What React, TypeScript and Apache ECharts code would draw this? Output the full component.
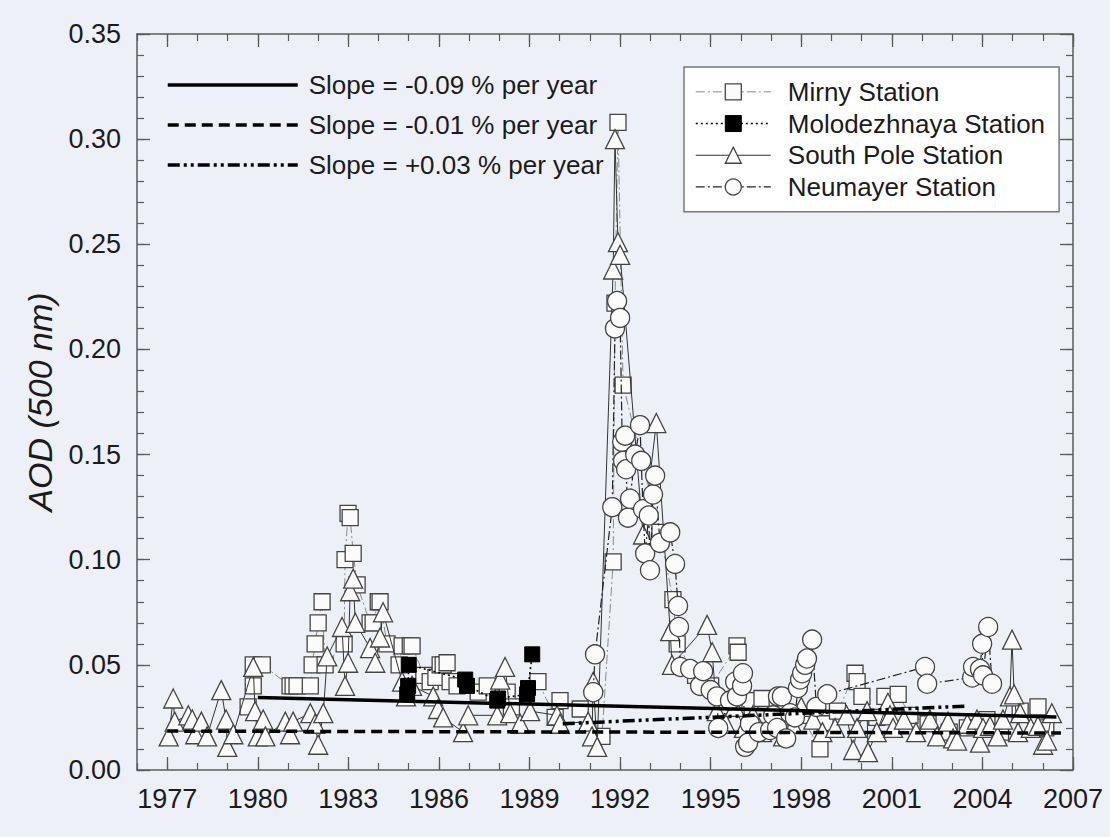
import React, { useEffect, useRef } from "react";
import * as echarts from "echarts";

// Tick positions
const yearTicks = [1977, 1980, 1983, 1986, 1989, 1992, 1995, 1998, 2001, 2004, 2007];
const aodTicks = [0, 0.05, 0.1, 0.15, 0.2, 0.25, 0.3, 0.35];

// Station series: [decimal year, AOD at 500 nm]
const mirny: number[][] = [
  [1979.68, 0.03], [1979.85, 0.04], [1979.85, 0.05], [1980.15, 0.05], [1981.07, 0.04], [1981.17, 0.04],
  [1981.3, 0.04], [1981.74, 0.04], [1981.8, 0.05], [1981.9, 0.06], [1982.0, 0.07], [1982.13, 0.08],
  [1982.23, 0.05], [1982.86, 0.06], [1982.89, 0.1], [1982.99, 0.122], [1983.06, 0.12], [1983.16, 0.103],
  [1983.29, 0.088], [1983.72, 0.07], [1983.82, 0.07], [1983.99, 0.08], [1984.05, 0.08], [1984.28, 0.06],
  [1984.68, 0.05], [1984.78, 0.059], [1985.05, 0.059], [1985.11, 0.059], [1985.5, 0.045], [1985.71, 0.042],
  [1985.9, 0.044], [1986.04, 0.05], [1986.14, 0.05], [1986.27, 0.051], [1986.37, 0.042], [1986.6, 0.04],
  [1987.3, 0.037], [1987.6, 0.04], [1988.26, 0.037], [1988.4, 0.03], [1989.28, 0.042], [1989.85, 0.025],
  [1990.01, 0.033], [1990.68, 0.029], [1991.4, 0.016], [1991.77, 0.099], [1991.83, 0.222], [1991.93, 0.308],
  [1992.1, 0.183], [1993.32, 0.113], [1993.75, 0.081], [1993.89, 0.06], [1994.5, 0.045], [1995.0, 0.04],
  [1995.87, 0.059], [1995.91, 0.056], [1996.3, 0.033], [1996.7, 0.034], [1997.2, 0.03], [1997.6, 0.022],
  [1998.0, 0.026], [1998.62, 0.01], [1998.79, 0.022], [1999.2, 0.028], [1999.78, 0.046], [1999.85, 0.042],
  [2000.01, 0.035], [2000.5, 0.025], [2000.77, 0.035], [2001.21, 0.036], [2001.6, 0.026], [2002.2, 0.022],
  [2002.9, 0.018], [2003.5, 0.02], [2004.15, 0.024], [2004.6, 0.018], [2005.25, 0.028], [2005.84, 0.03],
  [2006.1, 0.02],
];

const molodezhnaya: number[][] = [
  [1984.95, 0.036], [1984.98, 0.04], [1985.0, 0.05], [1986.87, 0.043], [1986.93, 0.04],
  [1987.93, 0.033], [1987.96, 0.034], [1988.92, 0.036], [1988.95, 0.039], [1989.09, 0.055],
];

const southPole: number[][] = [
  [1977.05, 0.016], [1977.2, 0.034], [1977.25, 0.023], [1977.7, 0.026], [1977.83, 0.024], [1977.93, 0.017],
  [1978.13, 0.023], [1978.32, 0.016], [1978.79, 0.038], [1978.95, 0.024], [1978.99, 0.011], [1979.19, 0.017],
  [1979.85, 0.049], [1979.91, 0.028], [1980.0, 0.016], [1980.18, 0.024], [1980.25, 0.016], [1980.91, 0.023],
  [1981.07, 0.017], [1981.17, 0.023], [1981.74, 0.027], [1981.9, 0.022], [1982.0, 0.012], [1982.17, 0.027],
  [1982.3, 0.054], [1982.79, 0.068], [1982.89, 0.04], [1982.99, 0.051], [1983.06, 0.085], [1983.16, 0.091],
  [1983.23, 0.07], [1983.72, 0.058], [1983.89, 0.051], [1984.05, 0.063], [1984.15, 0.075], [1984.78, 0.042],
  [1984.91, 0.035], [1985.11, 0.04], [1985.81, 0.035], [1985.97, 0.029], [1986.14, 0.025], [1986.8, 0.018],
  [1986.97, 0.026], [1987.93, 0.026], [1988.03, 0.043], [1988.19, 0.049], [1988.36, 0.027], [1988.69, 0.022],
  [1989.02, 0.028], [1989.91, 0.026], [1990.01, 0.022], [1990.94, 0.023], [1991.07, 0.016], [1991.11, 0.042],
  [1991.24, 0.011], [1991.77, 0.238], [1991.83, 0.3], [1991.93, 0.251], [1992.0, 0.245], [1992.76, 0.112],
  [1993.2, 0.165], [1993.66, 0.066], [1993.72, 0.05], [1994.88, 0.069], [1995.05, 0.056], [1995.2, 0.028],
  [1995.5, 0.022], [1995.8, 0.03], [1996.1, 0.02], [1996.4, 0.026], [1996.7, 0.018], [1997.07, 0.025],
  [1997.4, 0.016], [1997.7, 0.022], [1998.0, 0.03], [1998.4, 0.024], [1998.7, 0.018], [1999.12, 0.02],
  [1999.5, 0.026], [1999.72, 0.0095], [1999.85, 0.02], [2000.18, 0.028], [2000.21, 0.0085], [2000.5, 0.018],
  [2000.87, 0.032], [2000.94, 0.026], [2001.04, 0.02], [2001.4, 0.024], [2001.8, 0.018], [2002.26, 0.024],
  [2002.5, 0.016], [2002.86, 0.023], [2003.03, 0.015], [2003.16, 0.014], [2003.5, 0.022], [2003.82, 0.024],
  [2003.92, 0.013], [2004.02, 0.02], [2004.25, 0.021], [2004.5, 0.016], [2004.68, 0.024], [2004.91, 0.035],
  [2004.98, 0.062], [2005.05, 0.036], [2005.18, 0.018], [2005.25, 0.027], [2005.6, 0.02], [2005.84, 0.021],
  [2006.01, 0.012], [2006.14, 0.014], [2006.3, 0.027],
];

const neumayer: number[][] = [
  [1991.11, 0.037], [1991.17, 0.055], [1991.74, 0.125], [1991.83, 0.21], [1991.9, 0.223], [1992.0, 0.215],
  [1992.07, 0.156], [1992.1, 0.147], [1992.17, 0.159], [1992.2, 0.143], [1992.26, 0.12], [1992.33, 0.129],
  [1992.5, 0.15], [1992.66, 0.164], [1992.7, 0.147], [1992.76, 0.124], [1992.83, 0.103], [1992.95, 0.121],
  [1992.99, 0.095], [1993.09, 0.131], [1993.16, 0.14], [1993.32, 0.108], [1993.66, 0.113], [1993.82, 0.098],
  [1993.92, 0.078], [1993.95, 0.068], [1994.0, 0.049], [1994.32, 0.048], [1994.65, 0.04], [1994.75, 0.047],
  [1995.0, 0.038], [1995.21, 0.035], [1995.25, 0.02], [1995.64, 0.033], [1995.81, 0.042], [1995.87, 0.035],
  [1996.04, 0.04], [1996.07, 0.046], [1996.14, 0.011], [1996.24, 0.013], [1996.3, 0.022], [1996.6, 0.018],
  [1996.97, 0.019], [1997.07, 0.026], [1997.2, 0.02], [1997.23, 0.035], [1997.36, 0.035], [1997.5, 0.015],
  [1997.63, 0.027], [1997.79, 0.025], [1997.89, 0.039], [1997.96, 0.043], [1998.03, 0.046], [1998.13, 0.05],
  [1998.19, 0.053], [1998.36, 0.062], [1998.5, 0.03], [1998.86, 0.036], [2002.1, 0.049], [2002.17, 0.041],
  [2003.66, 0.044], [2003.69, 0.049], [2003.92, 0.048], [2003.99, 0.06], [2004.02, 0.045], [2004.19, 0.068],
  [2004.32, 0.041],
];

// Linear trend fits (end points)
const trendSolid: number[][] = [[1980.0, 0.0345], [2006.45, 0.0252]];
const trendDashed: number[][] = [[1977.0, 0.0185], [2006.6, 0.0176]];
const trendDashDot: number[][] = [[1990.1, 0.022], [2003.5, 0.0304]];

const stationNames = ["Mirny Station", "Molodezhnaya Station", "South Pole Station", "Neumayer Station"];
const slopeNames = ["Slope = -0.09 % per year", "Slope = -0.01 % per year", "Slope = +0.03 % per year"];

const FONT = "'Liberation Sans', Arial, Helvetica, sans-serif";
const TEXT = "#1b1b1b";
const FRAME = "#5a5a5a";

function xAxisPair(position: "bottom" | "top", labels: boolean) {
  return [
    {
      type: "value",
      position,
      min: 1976,
      max: 2007,
      axisLine: { show: true, onZero: false, lineStyle: { color: FRAME, width: 1.5 } },
      axisTick: { show: true, inside: true, length: 13, customValues: yearTicks, lineStyle: { color: FRAME, width: 1.3 } },
      axisLabel: labels
        ? {
            show: true,
            customValues: yearTicks,
            fontSize: 27,
            color: TEXT,
            fontFamily: FONT,
            margin: 15,
            formatter: (v: number) => String(Math.round(v)),
          }
        : { show: false },
      splitLine: { show: false },
    },
    {
      type: "value",
      position,
      min: 1976,
      max: 2007,
      interval: 1,
      axisLine: { show: false, onZero: false },
      axisTick: { show: true, inside: true, length: 7, lineStyle: { color: FRAME, width: 1.2 } },
      axisLabel: { show: false },
      splitLine: { show: false },
    },
  ];
}

function yAxisPair(position: "left" | "right", labels: boolean) {
  return [
    {
      type: "value",
      position,
      min: 0,
      max: 0.35,
      interval: 0.05,
      axisLine: { show: true, onZero: false, lineStyle: { color: FRAME, width: 1.5 } },
      axisTick: { show: true, inside: true, length: 13, lineStyle: { color: FRAME, width: 1.3 } },
      axisLabel: labels
        ? {
            show: true,
            customValues: aodTicks,
            fontSize: 27,
            color: TEXT,
            fontFamily: FONT,
            margin: 16,
            formatter: (v: number) => v.toFixed(2),
          }
        : { show: false },
      splitLine: { show: false },
    },
    {
      type: "value",
      position,
      min: 0,
      max: 0.35,
      interval: 0.01,
      axisLine: { show: false, onZero: false },
      axisTick: { show: true, inside: true, length: 7, lineStyle: { color: FRAME, width: 1.2 } },
      axisLabel: { show: false },
      splitLine: { show: false },
    },
  ];
}

const DASH_DOT = [9, 3, 2, 3];

function buildOption() {
  return {
    animation: false,
    backgroundColor: "#edf1f7",
    textStyle: { fontFamily: FONT },
    grid: { left: 137, top: 34, right: 37, bottom: 67, containLabel: false },
    xAxis: [...xAxisPair("bottom", true), ...xAxisPair("top", false)],
    yAxis: [...yAxisPair("left", true), ...yAxisPair("right", false)],
    legend: [
      {
        id: "stations",
        orient: "vertical",
        left: 684,
        top: 67,
        padding: [9, 14, 9, 11],
        itemGap: 0,
        itemWidth: 75,
        itemHeight: 20,
        backgroundColor: "#ffffff",
        borderColor: "#777777",
        borderWidth: 1.5,
        borderRadius: 0,
        selectedMode: false,
        data: stationNames,
        textStyle: { fontSize: 26, color: TEXT, fontFamily: FONT, lineHeight: 31.7, padding: [0, 0, 0, 12] },
        lineStyle: { width: "inherit" },
        itemStyle: { borderWidth: "inherit" },
      },
      {
        id: "slopes",
        orient: "vertical",
        left: 166,
        top: 65,
        padding: 0,
        itemGap: 0,
        itemWidth: 130,
        itemHeight: 14,
        selectedMode: false,
        data: slopeNames,
        textStyle: { fontSize: 26, color: TEXT, fontFamily: FONT, lineHeight: 40, padding: [0, 0, 0, 6] },
        lineStyle: { width: "inherit" },
        itemStyle: { color: "transparent", borderColor: "transparent", borderWidth: 0, opacity: 0 },
      },
    ],
    graphic: [
      {
        type: "text",
        x: 40,
        y: 402,
        rotation: Math.PI / 2,
        style: {
          text: "AOD (500 nm)",
          font: `italic 34px ${FONT}`,
          fill: TEXT,
          align: "center",
          verticalAlign: "middle",
        },
      },
    ],
    series: [
      {
        name: "Mirny Station",
        type: "line",
        data: mirny,
        symbol: "rect",
        symbolSize: 16,
        z: 2,
        lineStyle: { color: "#8a8a8a", width: 1, type: DASH_DOT },
        itemStyle: { color: "#fbfbfb", borderColor: "#444", borderWidth: 1.3 },
      },
      {
        name: "South Pole Station",
        type: "line",
        data: southPole,
        symbol: "triangle",
        symbolSize: 19,
        z: 3,
        lineStyle: { color: "#333", width: 1 },
        itemStyle: { color: "#fbfbfb", borderColor: "#444", borderWidth: 1.3 },
      },
      {
        name: "Molodezhnaya Station",
        type: "line",
        data: molodezhnaya,
        symbol: "rect",
        symbolSize: 15,
        z: 4,
        lineStyle: { color: "#000", width: 1.6, type: [2, 3] },
        itemStyle: { color: "#000", borderColor: "#000", borderWidth: 1 },
      },
      {
        name: "Neumayer Station",
        type: "line",
        data: neumayer,
        symbol: "circle",
        symbolSize: 19,
        z: 5,
        lineStyle: { color: "#222", width: 1.2, type: DASH_DOT },
        itemStyle: { color: "#fbfbfb", borderColor: "#444", borderWidth: 1.3 },
      },
      {
        name: slopeNames[0],
        type: "line",
        data: trendSolid,
        symbol: "none",
        z: 6,
        itemStyle: { color: "#000" },
        lineStyle: { color: "#000", width: 3.5 },
      },
      {
        name: slopeNames[1],
        type: "line",
        data: trendDashed,
        symbol: "none",
        z: 6,
        itemStyle: { color: "#000" },
        lineStyle: { color: "#000", width: 3.5, type: [11, 6] },
      },
      {
        name: slopeNames[2],
        type: "line",
        data: trendDashDot,
        symbol: "none",
        z: 6,
        itemStyle: { color: "#000" },
        lineStyle: { color: "#000", width: 3.5, type: [12, 4, 3, 4, 3, 4] },
      },
    ],
  };
}

export default function App() {
  const ref = useRef<HTMLDivElement>(null);
  useEffect(() => {
    if (!ref.current) return;
    const chart = echarts.init(ref.current, null, { renderer: "svg" });
    chart.setOption(buildOption() as any);
    return () => chart.dispose();
  }, []);
  return (
    <div
      ref={ref}
      style={{ position: "fixed", left: 0, top: 0, width: 1110, height: 837 }}
    />
  );
}
